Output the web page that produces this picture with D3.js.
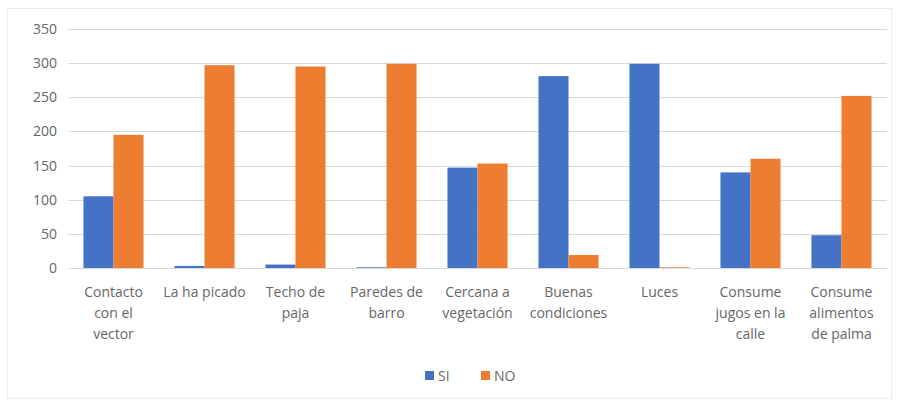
<!DOCTYPE html>
<html>
<head>
<meta charset="utf-8">
<script src="https://cdn.jsdelivr.net/npm/d3@7"></script>
<style>
  html, body { margin: 0; padding: 0; background: #ffffff; }
  svg { display: block; }
</style>
</head>
<body>
<svg id="chart" width="899" height="403"></svg>
<script>
const categories = [
  ["Contacto", "con el", "vector"],
  ["La ha picado"],
  ["Techo de", "paja"],
  ["Paredes de", "barro"],
  ["Cercana a", "vegetación"],
  ["Buenas", "condiciones"],
  ["Luces"],
  ["Consume", "jugos en la", "calle"],
  ["Consume", "alimentos", "de palma"]
];
const seriesNames = ["SI", "NO"];
const siValues = [105, 3, 5, 1, 147, 281, 299, 140, 48];
const noValues = [195, 297, 295, 299, 153, 19, 1, 160, 252];
const yTicks = [0, 50, 100, 150, 200, 250, 300, 350];
const colors = ["#4472C4", "#ED7D31"];

(function () {
const svg = d3.select("#chart");
const font = "Open Sans, Lato, sans-serif";
const textColor = "#666666";

// outer frame
svg.append("rect")
  .attr("x", 7.5).attr("y", 8.5).attr("width", 884).attr("height", 390)
  .attr("fill", "#fff").attr("stroke", "#ebebeb").attr("stroke-width", 1);

const pLeft = 68, pRight = 887, pTop = 29, pBottom = 268;
const idx = categories.map((d, i) => i);

const x = d3.scaleBand().domain(idx).range([pLeft, pRight]).paddingInner(0.34).paddingOuter(0.17);
const xs = d3.scaleBand().domain(seriesNames).range([0, x.bandwidth()]).padding(0);
const y = d3.scaleLinear().domain([0, 350]).range([pBottom, pTop]);

// gridlines
svg.append("g")
  .selectAll("line").data(yTicks.filter(t => t > 0)).join("line")
  .attr("x1", pLeft).attr("x2", pRight)
  .attr("y1", d => Math.round(y(d)) + 0.5).attr("y2", d => Math.round(y(d)) + 0.5)
  .attr("stroke", "#d9d9d9").attr("stroke-width", 1);

// y axis labels
const yAxis = d3.axisLeft(y).tickValues(yTicks).tickSize(0).tickPadding(0);
const gy = svg.append("g").attr("transform", `translate(${57},0)`).call(yAxis);
gy.select(".domain").remove();
gy.selectAll("text")
  .attr("font-family", font).attr("font-size", 14).attr("fill", textColor)
  .attr("text-anchor", "end");

// bars
const data = idx.map(i => ({ i, vals: [siValues[i], noValues[i]] }));
const groups = svg.append("g").selectAll("g").data(data).join("g")
  .attr("transform", d => `translate(${x(d.i)},0)`);
groups.selectAll("rect")
  .data(d => d.vals.map((v, k) => ({ v, k })))
  .join("rect")
  .attr("x", d => xs(seriesNames[d.k]))
  .attr("width", xs.bandwidth())
  .attr("y", d => y(d.v))
  .attr("height", d => y(0) - y(d.v))
  .attr("fill", d => colors[d.k]);

// baseline axis
const xAxis = d3.axisBottom(x).tickSize(0).tickFormat("");
const gx = svg.append("g").attr("transform", `translate(0,${pBottom})`).call(xAxis);
gx.select(".domain").attr("stroke", "#d9d9d9").attr("d", `M${pLeft},0.5H${pRight}`);

// category labels
const labels = svg.append("g").selectAll("text").data(idx).join("text")
  .attr("x", d => x(d) + x.bandwidth() / 2)
  .attr("y", 297)
  .attr("text-anchor", "middle")
  .attr("font-family", font).attr("font-size", 14).attr("fill", textColor);
labels.selectAll("tspan").data(d => categories[d]).join("tspan")
  .attr("x", function() { return d3.select(this.parentNode).attr("x"); })
  .attr("dy", (d, k) => k === 0 ? 0 : 21)
  .text(d => d);

// legend
const legendItems = [
  { name: seriesNames[0], color: colors[0], x: 425 },
  { name: seriesNames[1], color: colors[1], x: 481 }
];
const lg = svg.append("g").selectAll("g").data(legendItems).join("g")
  .attr("transform", d => `translate(${d.x},371)`);
lg.append("rect").attr("width", 9).attr("height", 9).attr("fill", d => d.color);
lg.append("text").attr("x", 13).attr("y", 10)
  .attr("font-family", font).attr("font-size", 14).attr("fill", textColor)
  .text(d => d.name);
})();
</script>
</body>
</html>
